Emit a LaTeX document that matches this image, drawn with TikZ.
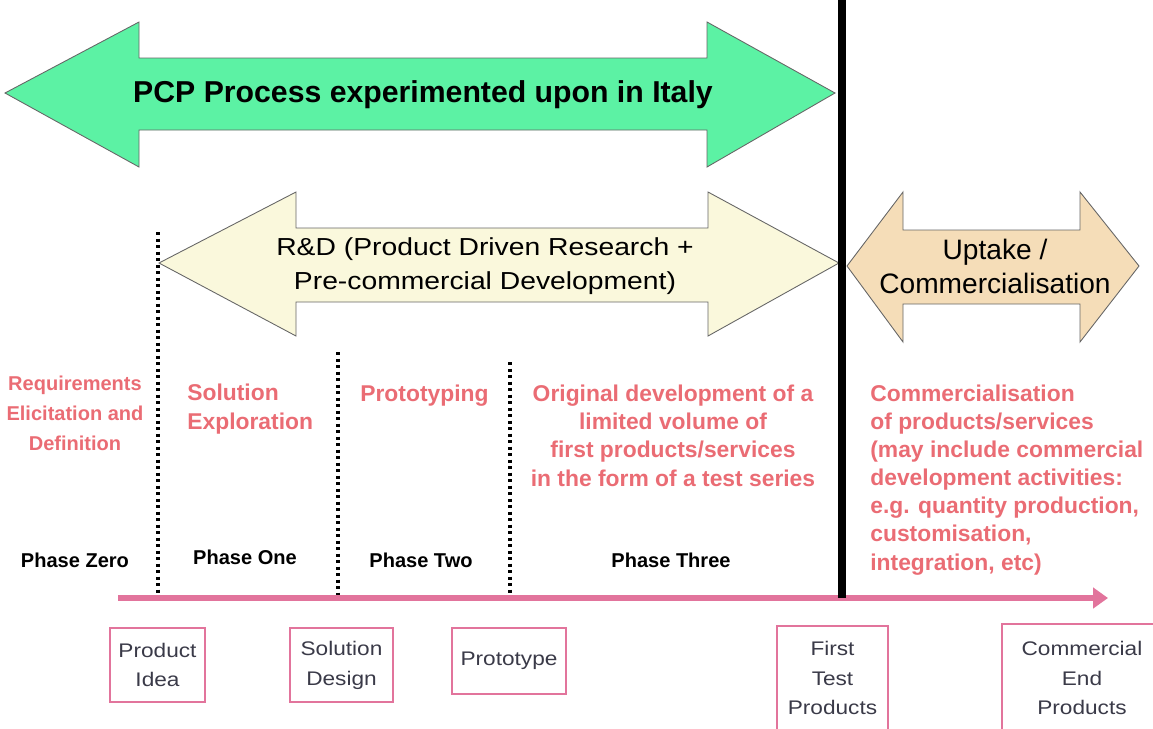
\documentclass[tikz,border=0pt]{standalone}
\usepackage{fontspec}
\setmainfont{Liberation Sans}
\newfontfamily\widesans[FakeStretch=1.15]{Liberation Sans}
\usetikzlibrary{arrows.meta}
\definecolor{arrowgreen}{RGB}{92,242,164}
\definecolor{rdyellow}{RGB}{250,248,220}
\definecolor{uptaketan}{RGB}{245,221,184}
\definecolor{axispink}{RGB}{226,116,156}
\definecolor{stagered}{RGB}{234,108,116}
\definecolor{boxtext}{RGB}{58,58,72}

\begin{document}
\begin{tikzpicture}[
  x=0.2mm, y=-0.2mm,
  bigarrow/.style={draw=black!60, line width=0.5pt, line join=miter},
  arrowlabel/.style={align=center, anchor=base, inner sep=0pt, font=\fontsize{16}{19.3}\selectfont},
  stage/.style={text=stagered, align=left, anchor=base west, inner sep=0pt, font=\bfseries\fontsize{13}{16}\selectfont},
  phase/.style={anchor=base, inner sep=0pt, font=\bfseries\fontsize{11.4}{13}\selectfont},
  divider/.style={line width=2.1pt, dash pattern=on 1.9pt off 1.8pt},
  milestone/.style={draw=axispink, line width=0.8pt, text=boxtext, align=center, inner sep=0pt, font=\widesans\fontsize{11.2}{17}\selectfont},
]
\useasboundingbox (0,0) rectangle (1153,728);
\clip (0,0) rectangle (1153,728);

\draw[bigarrow, fill=arrowgreen] (5,93) -- (139,22) -- (139,58) -- (707,58) -- (707,22) -- (835,93)
  -- (707,167) -- (707,130) -- (139,130) -- (139,167) -- cycle;
\draw[bigarrow, fill=rdyellow] (159,263) -- (296,192) -- (296,228) -- (708,228) -- (708,192) -- (839,263)
  -- (708,336) -- (708,302) -- (296,302) -- (296,336) -- cycle;
\draw[bigarrow, fill=uptaketan] (847,266) -- (903,192) -- (903,230) -- (1080,230) -- (1080,192) -- (1139,266)
  -- (1080,342) -- (1080,304) -- (903,304) -- (903,342) -- cycle;

% multi-line nodes sit on the baseline of their last line
\node[arrowlabel, font=\bfseries\fontsize{17.2}{20}\selectfont] (pcp) at (423,102) {PCP Process experimented upon in Italy};
\node[arrowlabel, font=\widesans\fontsize{14}{19.3}\selectfont] (rd) at (485,289) {R\&D (Product Driven Research +\\Pre-commercial Development)};
\node[arrowlabel] (uptake) at (995,293) {Uptake /\\Commercialisation};

\draw[divider] (158,232) -- (158,598);
\draw[divider] (338,352) -- (338,598);
\draw[divider] (510,362) -- (510,598);

\node[stage, align=center, anchor=base, font=\bfseries\fontsize{11.4}{17}\selectfont] (reqs) at (75,450) {Requirements\\Elicitation and\\Definition};
\node[stage] (explore) at (187,429) {Solution\\Exploration};
\node[stage] (prototyping) at (360,401) {Prototyping};
\node[stage, align=center, anchor=base] (origdev) at (673,486) {Original development of a\\limited volume of\\first products/services\\in the form of a test series};
\node[stage] (commerc) at (870,570) {Commercialisation\\of products/services\\(may include commercial\\development activities:\\e.g. quantity production,\\customisation,\\integration, etc)};

\node[phase] (ph0) at (75,567) {Phase Zero};
\node[phase] (ph1) at (245,564) {Phase One};
\node[phase] (ph2) at (421,567) {Phase Two};
\node[phase] (ph3) at (671,567) {Phase Three};

\coordinate (tstart) at (118,598);
\coordinate (tend) at (1108,598);
\draw[axispink, line width=3.4pt, -{Triangle[length=8.5pt, width=11.5pt]}] (tstart) -- (tend);
\draw[line width=4.5pt] (842,0) -- (842,598);

\node[milestone, minimum width=19mm, minimum height=14.8mm] (idea) at (157.5,665) {Product\\Idea};
\node[milestone, minimum width=20.6mm, minimum height=14.8mm] (design) at (341.5,665) {Solution\\Design};
\node[milestone, minimum width=22.8mm, minimum height=13.2mm] (prototype) at (509,661) {Prototype};
\node[milestone, minimum width=22.2mm, minimum height=20.8mm] (testprod) at (832.5,678) {First\\Test\\Products};
\node[milestone, minimum width=32mm, minimum height=21.6mm] (endprod) at (1082,678) {Commercial\\End\\Products};
\end{tikzpicture}
\end{document}
